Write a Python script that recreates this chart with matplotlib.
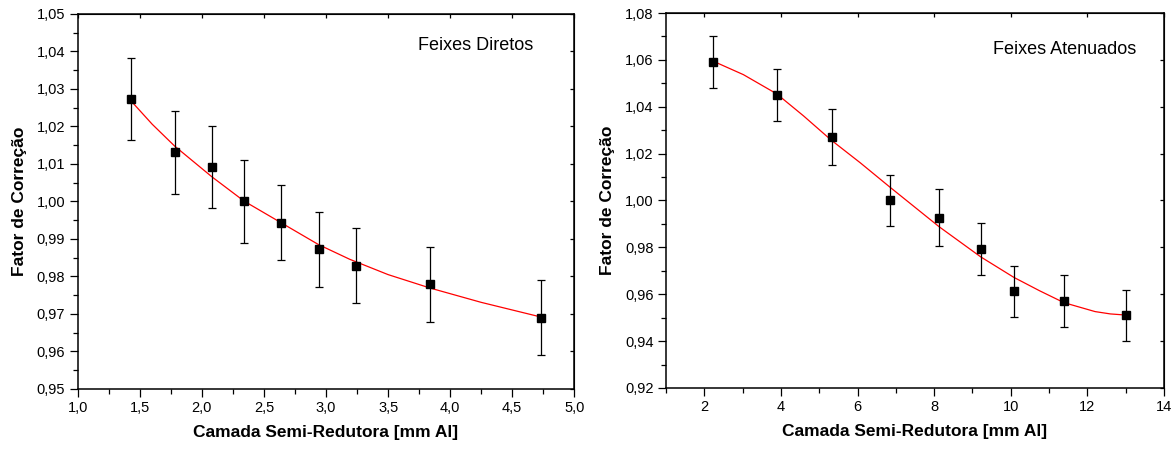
import matplotlib
matplotlib.use("Agg")
import matplotlib.pyplot as plt
from matplotlib.ticker import MultipleLocator, FuncFormatter

plt.rcParams["font.family"] = ["Liberation Sans", "DejaVu Sans"]

# Feixes Diretos (left)
csr_diretos = [1.43, 1.78, 2.08, 2.34, 2.64, 2.94, 3.24, 3.84, 4.73]
fator_diretos = [1.0273, 1.0131, 1.0092, 1.0000, 0.9943, 0.9873, 0.9829, 0.9779, 0.9690]
erro_diretos = [0.011, 0.011, 0.011, 0.011, 0.010, 0.010, 0.010, 0.010, 0.010]
ajuste_x_diretos = [1.43, 1.60, 1.78, 2.08, 2.34, 2.64, 2.94, 3.19, 3.50, 3.84, 4.25, 4.73]
ajuste_y_diretos = [1.0268, 1.0206, 1.0148, 1.0066, 1.0001, 0.9943, 0.9885, 0.9846, 0.9805,
                    0.9769, 0.9731, 0.9692]

# Feixes Atenuados (right)
csr_atenuados = [2.22, 3.90, 5.33, 6.86, 8.13, 9.21, 10.08, 11.39, 13.02]
fator_atenuados = [1.059, 1.045, 1.027, 1.000, 0.9927, 0.9794, 0.9612, 0.9572, 0.9510]
erro_atenuados = [0.011, 0.011, 0.012, 0.011, 0.012, 0.011, 0.011, 0.011, 0.011]
ajuste_x_atenuados = [2.21, 3.02, 3.89, 4.59, 5.31, 6.07, 6.83, 7.37, 8.13, 9.21, 10.08,
                      10.75, 11.39, 12.2, 12.6, 13.02]
ajuste_y_atenuados = [1.0596, 1.0537, 1.0455, 1.0361, 1.0258, 1.0161, 1.0059, 0.9988, 0.9888,
                      0.9760, 0.9672, 0.9615, 0.9564, 0.9526, 0.9516, 0.9511]


def virgula(fmt):
    return FuncFormatter(lambda v, p: fmt.format(v).replace(".", ","))


def painel(ax, x, y, err, fx, fy, texto, xlim, ylim, xmaj, xmin, ymaj, ymin, xfmt, tx, ty):
    ax.plot(fx, fy, color="red", lw=0.9, zorder=2)
    ax.errorbar(x, y, yerr=err, fmt="s", color="black", ms=6.3, ecolor="black",
                elinewidth=0.9, capsize=3, capthick=0.9, zorder=3)
    ax.set_xlim(*xlim)
    ax.set_ylim(*ylim)
    ax.xaxis.set_major_locator(MultipleLocator(xmaj))
    ax.xaxis.set_minor_locator(MultipleLocator(xmin))
    ax.yaxis.set_major_locator(MultipleLocator(ymaj))
    ax.yaxis.set_minor_locator(MultipleLocator(ymin))
    ax.xaxis.set_major_formatter(virgula(xfmt))
    ax.yaxis.set_major_formatter(virgula("{:.2f}"))
    ax.tick_params(which="major", direction="out", length=6, width=0.9, labelsize=10.5, pad=3,
                   top=False, right=False)
    ax.tick_params(which="minor", direction="out", length=3.5, width=0.9,
                   top=False, right=False)
    for s in ax.spines.values():
        s.set_linewidth(1.1)
    ax2 = ax.secondary_yaxis("right")
    ax2.yaxis.set_major_locator(MultipleLocator(ymaj))
    ax2.tick_params(direction="in", length=3, width=0.9, labelright=False)
    ax3 = ax.secondary_xaxis("top")
    ax3.xaxis.set_major_locator(MultipleLocator(xmaj))
    ax3.tick_params(direction="in", length=3, width=0.9, labeltop=False)
    ax.set_xlabel("Camada Semi-Redutora [mm Al]", fontsize=12.5, fontweight="bold", labelpad=7)
    ax.set_ylabel("Fator de Correção", fontsize=12.5, fontweight="bold", labelpad=7)
    ax.text(tx, ty, texto, transform=ax.transAxes, ha="right", va="center", fontsize=13)


fig = plt.figure(figsize=(11.74, 4.5), dpi=100)
ax_l = fig.add_axes([0.0662, 0.1356, 0.423, 0.8333])
ax_r = fig.add_axes([0.5673, 0.1378, 0.4242, 0.8333])

painel(ax_l, csr_diretos, fator_diretos, erro_diretos, ajuste_x_diretos, ajuste_y_diretos,
       "Feixes Diretos", (1.0, 5.0), (0.95, 1.05), 0.5, 0.25, 0.01, 0.005, "{:.1f}", 0.918, 0.915)
painel(ax_r, csr_atenuados, fator_atenuados, erro_atenuados, ajuste_x_atenuados,
       ajuste_y_atenuados, "Feixes Atenuados", (1, 14), (0.92, 1.08), 2, 1, 0.02, 0.01,
       "{:.0f}", 0.944, 0.902)

fig.savefig("out.png", dpi=100)
